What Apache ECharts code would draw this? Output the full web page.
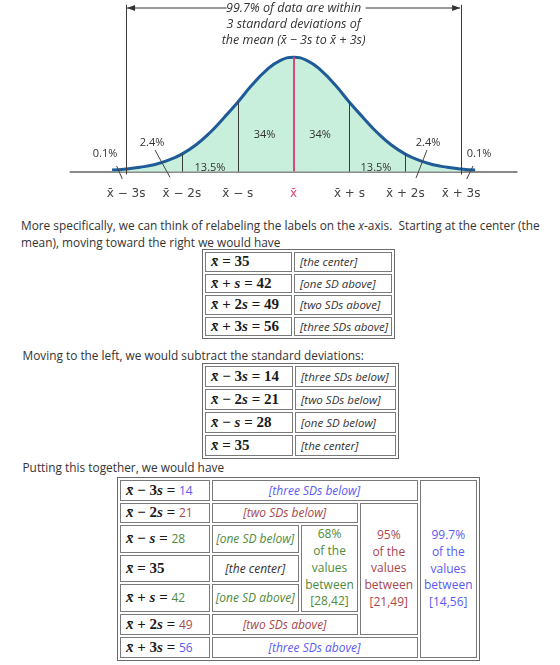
<!DOCTYPE html>
<html><head><meta charset="utf-8">
<script src="https://cdn.jsdelivr.net/npm/echarts@6/dist/echarts.min.js"></script>
<style>
body{margin:0;background:#fff;font-family:'Open Sans',sans-serif;color:#333;width:560px;height:665px;position:relative;overflow:hidden}
#chart{position:absolute;left:0;top:0;width:560px;height:200px}
.p{position:absolute;font-size:11.85px;line-height:17px;white-space:nowrap}
table{position:absolute;border-collapse:separate;border-spacing:2px;border:1px solid #6a6a6a;table-layout:fixed}
td{border:1px solid #7a7a7a;padding:0 0 0 5px;white-space:nowrap;overflow:hidden;vertical-align:middle}
.m{font-family:'Liberation Serif',serif;font-weight:bold;font-size:15px;color:#1a1a1a}
.m i{font-style:italic}
.d{font-style:italic;font-size:11.5px}
#t3 .d{font-size:12px}
.c{text-align:center;padding:0}
.n{font-family:'Open Sans',sans-serif;font-weight:normal;font-size:12px}
.pct{font-size:12px;line-height:16.7px;text-align:center;padding:0}
.blue{color:#5a5af2}.red{color:#a8474c}.green{color:#4f8a3b}
</style></head>
<body>
<div id="chart"></div>
<div class="p" style="left:21px;top:216.5px">More specifically, we can think of relabeling the labels on the <i>x</i>-axis.&nbsp; Starting at the center (the<br>mean), moving toward the right we would have</div>

<table id="t1" style="left:202px;top:249px">
<colgroup><col style="width:87px"><col style="width:98px"></colgroup>
<tr style="height:19.5px"><td class="m"><i>x̄</i> = 35</td><td class="d">[the center]</td></tr>
<tr style="height:19.5px"><td class="m"><i>x̄</i> + <i>s</i> = 42</td><td class="d">[one SD above]</td></tr>
<tr style="height:19.5px"><td class="m"><i>x̄</i> + 2<i>s</i> = 49</td><td class="d">[two SDs above]</td></tr>
<tr style="height:19.5px"><td class="m"><i>x̄</i> + 3<i>s</i> = 56</td><td class="d">[three SDs above]</td></tr>
</table>

<div class="p" style="left:22.5px;top:346.5px">Moving to the left, we would subtract the standard deviations:</div>

<table id="t2" style="left:202px;top:363px">
<colgroup><col style="width:88px"><col style="width:101px"></colgroup>
<tr style="height:21px"><td class="m"><i>x̄</i> − 3<i>s</i> = 14</td><td class="d">[three SDs below]</td></tr>
<tr style="height:21px"><td class="m"><i>x̄</i> − 2<i>s</i> = 21</td><td class="d">[two SDs below]</td></tr>
<tr style="height:21px"><td class="m"><i>x̄</i> − <i>s</i> = 28</td><td class="d">[one SD below]</td></tr>
<tr style="height:21px"><td class="m"><i>x̄</i> = 35</td><td class="d">[the center]</td></tr>
</table>

<div class="p" style="left:22.5px;top:459px">Putting this together, we would have</div>

<table id="t3" style="left:117px;top:477px">
<colgroup><col style="width:89.5px"><col style="width:87.5px"><col style="width:57px"><col style="width:57.5px"><col style="width:57.5px"></colgroup>
<tr style="height:20.5px"><td class="m"><i>x̄</i> − 3<i>s</i> = <span class="n blue">14</span></td><td class="d c blue" colspan="3">[three SDs below]</td><td class="pct blue" rowspan="7">99.7%<br>of the<br>values<br>between<br>[14,56]</td></tr>
<tr style="height:20.5px"><td class="m"><i>x̄</i> − 2<i>s</i> = <span class="n red">21</span></td><td class="d c red" colspan="2">[two SDs below]</td><td class="pct red" rowspan="5">95%<br>of the<br>values<br>between<br>[21,49]</td></tr>
<tr style="height:27.5px"><td class="m"><i>x̄</i> − <i>s</i> = <span class="n green">28</span></td><td class="d c green">[one SD below]</td><td class="pct green" rowspan="3">68%<br>of the<br>values<br>between<br>[28,42]</td></tr>
<tr style="height:27.5px"><td class="m"><i>x̄</i> = 35</td><td class="d c">[the center]</td></tr>
<tr style="height:27.5px"><td class="m"><i>x̄</i> + <i>s</i> = <span class="n green">42</span></td><td class="d c green">[one SD above]</td></tr>
<tr style="height:21.5px"><td class="m"><i>x̄</i> + 2<i>s</i> = <span class="n red">49</span></td><td class="d c red" colspan="2">[two SDs above]</td></tr>
<tr style="height:21px"><td class="m"><i>x̄</i> + 3<i>s</i> = <span class="n blue">56</span></td><td class="d c blue" colspan="3">[three SDs above]</td></tr>
</table>

<script>
// ---- data (x in data units: mean 35, s = 7) ----
const curveX = [12.25,14,15.75,17.5,19.25,21,22.75,24.5,26.25,28,29.75,31.5,33.25,35,36.75,38.5,40.25,42,43.75,45.5,47.25,49,50.75,52.5,54.25,56,57.75];
const curveY = [1.3,2.3,3.8,6.0,9.8,15.3,23.3,34.0,47.0,60.7,75.5,88.2,96.9,100,96.9,88.2,75.5,60.7,47.0,34.0,23.3,15.3,9.8,6.0,3.8,2.3,1.3];
const sdValues = [14,21,28,35,42,49,56];
const tickLabels = ['x̄ − 3s','x̄ − 2s','x̄ − s','x̄','x̄ + s','x̄ + 2s','x̄ + 3s'];
const meanValue = 35;
const areaLabels = ['0.1%','2.4%','13.5%','34%','34%','13.5%','2.4%','0.1%'];
const topNote = ['99.7% of data are within','3 standard deviations of','the mean (x̄ − 3s to x̄ + 3s)'];

const heightAt = x => curveY[curveX.indexOf(x)];
const chart = echarts.init(document.getElementById('chart'));

const innerLines = sdValues.filter(v => v !== meanValue && v !== sdValues[0] && v !== sdValues[6])
  .map(v => [{coord:[v,0]},{coord:[v,heightAt(v)]}]);
const outerLines = [sdValues[0], sdValues[6]].map(v => [{coord:[v,-2.5]},{coord:[v,146]}]);
const meanLine = [{coord:[meanValue,0], lineStyle:{color:'#d9477e', width:2}},{coord:[meanValue,heightAt(meanValue)]}];

const curveData = curveX.map((x,i)=>[x,curveY[i]]);

chart.setOption({
  animation:false,
  grid:{left:70.2, right:43, top:4, bottom:6.4},
  xAxis:{type:'value', min:7, max:63, interval:7,
    axisLine:{onZero:true, lineStyle:{color:'#666', width:1.5}},
    axisTick:{show:false}, splitLine:{show:false},
    axisLabel:{margin:5, fontSize:12, color:'#444', fontFamily:'DejaVu Sans',
      formatter: v => { const i = sdValues.indexOf(v); if (i < 0) return ''; return v === meanValue ? '{m|' + tickLabels[i] + '}' : tickLabels[i]; },
      rich:{m:{color:'#d9477e', fontSize:12, fontFamily:'DejaVu Sans'}}}
  },
  yAxis:{type:'value', min:-10, max:146.7, show:false},
  series:[
    {type:'line', data:curveData, smooth:true, showSymbol:false, lineStyle:{width:0}, areaStyle:{color:'#c8eedc', opacity:1, origin:0}, z:1, silent:true},
    {type:'line', data:[], z:2, markLine:{silent:true, symbol:'none', label:{show:false}, animation:false,
      lineStyle:{color:'#3a3a3a', width:1, type:'solid'}, data:[...innerLines, ...outerLines, meanLine]}},
    {type:'line', data:curveData, smooth:true, showSymbol:false, lineStyle:{color:'#1f5b96', width:3}, z:3, silent:true}
  ]
});

const P = (x,y) => chart.convertToPixel({seriesIndex:0},[x,y]);
const xL = P(sdValues[0],0)[0], xR = P(sdValues[6],0)[0], xM = P(meanValue,0)[0];
const arrowY = 8;
const g = [];
// top arrows
g.push({type:'line', shape:{x1:xL+1, y1:arrowY, x2:xM-67, y2:arrowY}, style:{stroke:'#333', lineWidth:1}});
g.push({type:'line', shape:{x1:xM+72, y1:arrowY, x2:xR-1, y2:arrowY}, style:{stroke:'#333', lineWidth:1}});
g.push({type:'polygon', shape:{points:[[xL+1,arrowY],[xL+9,arrowY-3],[xL+9,arrowY+3]]}, style:{fill:'#333'}});
g.push({type:'polygon', shape:{points:[[xR-1,arrowY],[xR-9,arrowY-3],[xR-9,arrowY+3]]}, style:{fill:'#333'}});
topNote.forEach((t,i) => g.push({type:'text', x:xM, y:8+16*i, style:{text:t, fill:'#333', font:'italic 12.5px "Open Sans"', align:'center', verticalAlign:'middle'}}));
// percent labels (layout positions in pixels)
const labelPos = [[105,154],[152,143],[210,168],[264.5,135],[320,135],[376,168],[428,143],[479,154]];
areaLabels.forEach((t,i) => g.push({type:'text', x:labelPos[i][0], y:labelPos[i][1], style:{text:t, fill:'#333', font:'11px "Open Sans"', align:'center', verticalAlign:'middle'}}));
// leader lines
[[116.7,166,122.3,179],[155,150,170,177.3],[427,150,416,178],[473,166,466.7,179]].forEach(s =>
  g.push({type:'line', shape:{x1:s[0],y1:s[1],x2:s[2],y2:s[3]}, style:{stroke:'#444', lineWidth:1}}));
chart.setOption({graphic:{elements:g.map(e => Object.assign({z:100}, e))}});
</script>
</body></html>
